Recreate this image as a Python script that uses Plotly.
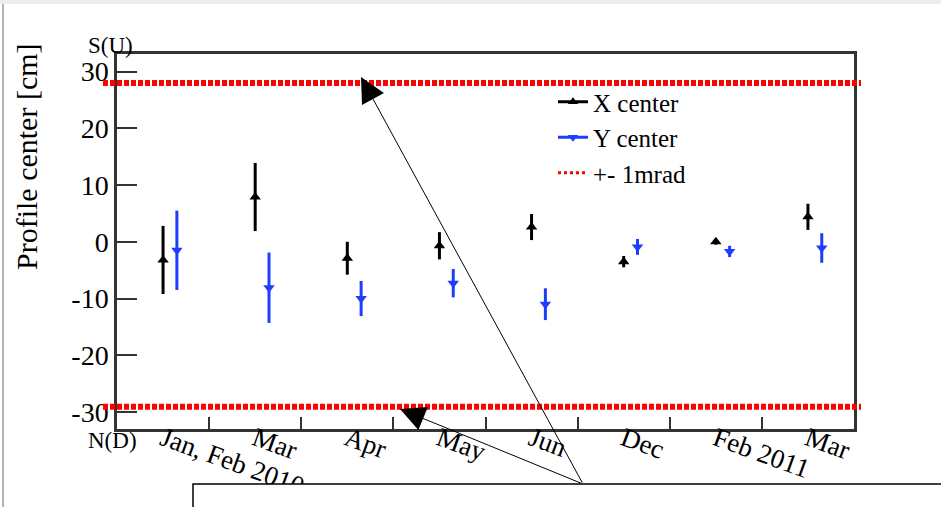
import plotly.graph_objects as go

# ---- data ----
categories = ["Jan, Feb 2010", "Mar", "Apr", "May", "Jun", "Dec", "Feb 2011", "Mar "]
x_center = [-3.2, 7.9, -2.9, -0.7, 2.6, -3.5, 0.0, 4.4]
x_err = [6.0, 6.0, 2.9, 2.4, 2.3, 1.0, 0.5, 2.3]
y_center = [-1.5, -8.1, -10.0, -7.3, -11.0, -0.9, -1.7, -1.1]
y_err = [7.0, 6.2, 3.1, 2.5, 2.8, 1.4, 1.0, 2.6]
mrad_limits = [28.0, -29.1]
y_tick_vals = [-30, -20, -10, 0, 10, 20, 30]
y_tick_text = ["-30", "-20", "-10", "0", "10", "20", "30"]

W, H = 941, 507
L, R, T, B = 117, 854, 54, 429
PW, PH = R - L, B - T

def px(x):
    return (x - L) / PW

def py(y):
    return 1 - (y - T) / PH

FONT = "Liberation Serif"
BLUE = "#1f3cff"
n = len(categories)
xs_x = [i + 0.5 for i in range(n)]
xs_y = [i + 0.65 for i in range(n)]

fig = go.Figure()
# data traces
fig.add_trace(go.Scatter(
    x=xs_x, y=x_center, mode="markers", name="X center", showlegend=False,
    marker=dict(symbol="triangle-up", size=10, color="black"),
    error_y=dict(type="data", array=x_err, visible=True, color="black", thickness=3, width=0),
))
fig.add_trace(go.Scatter(
    x=xs_y, y=y_center, mode="markers", name="Y center", showlegend=False, xaxis="x2",
    marker=dict(symbol="triangle-down", size=10, color=BLUE),
    error_y=dict(type="data", array=y_err, visible=True, color=BLUE, thickness=3, width=0),
))
# legend entries
fig.add_trace(go.Scatter(
    x=[None], y=[None], mode="lines+markers", name="X center",
    marker=dict(symbol="triangle-up", size=9, color="black"),
    line=dict(color="black", width=3),
))
fig.add_trace(go.Scatter(
    x=[None], y=[None], mode="lines+markers", name="Y center",
    marker=dict(symbol="triangle-down", size=9, color=BLUE),
    line=dict(color=BLUE, width=3),
))
fig.add_trace(go.Scatter(
    x=[None], y=[None], mode="lines", name="+- 1mrad",
    line=dict(color="red", width=3, dash="dot"),
))

shapes = []
for v in mrad_limits:
    shapes.append(dict(type="line", xref="paper", yref="y", x0=px(103), x1=px(861), y0=v, y1=v,
                       line=dict(color="#ff0000", width=6, dash="5px,2px"), layer="above"))
# slide decorations
shapes.append(dict(type="rect", xref="paper", yref="paper", x0=px(-5), x1=px(950), y0=py(-5), y1=py(4),
                   fillcolor="#ebebf0", line=dict(width=0)))
shapes.append(dict(type="line", xref="paper", yref="paper", x0=px(3), x1=px(3), y0=py(4), y1=py(510),
                   line=dict(color="#9a9a9a", width=1.5)))
shapes.append(dict(type="rect", xref="paper", yref="paper", x0=px(193), x1=px(960), y0=py(484), y1=py(530),
                   fillcolor="white", line=dict(color="black", width=1.5)))
fig.update_layout(shapes=shapes)

annotations = [
    dict(text="Profile center [cm]", xref="paper", yref="paper", x=px(26), y=py(157),
         textangle=-90, showarrow=False, font=dict(family=FONT, size=30, color="black"),
         xanchor="center", yanchor="middle"),
    dict(text="S(U)", xref="paper", yref="paper", x=px(110), y=py(46),
         showarrow=False, font=dict(family=FONT, size=23, color="black"),
         xanchor="center", yanchor="middle"),
    dict(text="N(D)", xref="paper", yref="paper", x=px(112), y=py(440),
         showarrow=False, font=dict(family=FONT, size=23, color="black"),
         xanchor="center", yanchor="middle"),
    dict(text="", xref="paper", yref="paper", x=px(361), y=py(77),
         ax=583 - 361, ay=484 - 77, axref="pixel", ayref="pixel",
         showarrow=True, arrowhead=2, arrowsize=5, arrowwidth=1, arrowcolor="black"),
    dict(text="", xref="paper", yref="paper", x=px(400), y=py(409),
         ax=583 - 400, ay=484 - 409, axref="pixel", ayref="pixel",
         showarrow=True, arrowhead=2, arrowsize=5, arrowwidth=1, arrowcolor="black"),
]
fig.update_layout(annotations=annotations)

axis_color = "#333333"
fig.update_layout(
    width=W, height=H,
    margin=dict(l=L, r=W - R, t=T, b=H - B, pad=0, autoexpand=False),
    paper_bgcolor="white", plot_bgcolor="white",
    showlegend=True,
    legend=dict(x=px(553), y=py(79), xanchor="left", yanchor="top",
                font=dict(family=FONT, size=25, color="black"),
                bgcolor="rgba(0,0,0,0)", borderwidth=0, tracegroupgap=0),
    xaxis=dict(range=[0, n], tickvals=list(range(1, n)), ticktext=[""] * (n - 1),
               ticks="inside", ticklen=12, tickwidth=1.5, tickcolor=axis_color,
               showline=True, linecolor=axis_color, linewidth=2.5, mirror=True,
               showgrid=False, zeroline=False, automargin=False),
    xaxis2=dict(range=[0, n], overlaying="x", side="bottom", anchor="y",
                tickvals=xs_x, ticktext=categories, tickangle=20, ticks="",
                ticklabelstandoff=-12,
                showline=False, showgrid=False, zeroline=False, automargin=False,
                tickfont=dict(family=FONT, size=27, color="black")),
    yaxis=dict(range=[-33, 33.1], tickvals=y_tick_vals, ticktext=y_tick_text,
               ticks="inside", ticklen=20, tickwidth=1.5, tickcolor=axis_color,
               showline=True, linecolor=axis_color, linewidth=2.5, mirror=True,
               showgrid=False, zeroline=False, automargin=False,
               tickfont=dict(family=FONT, size=28, color="black")),
)

fig.write_html("out.html")
